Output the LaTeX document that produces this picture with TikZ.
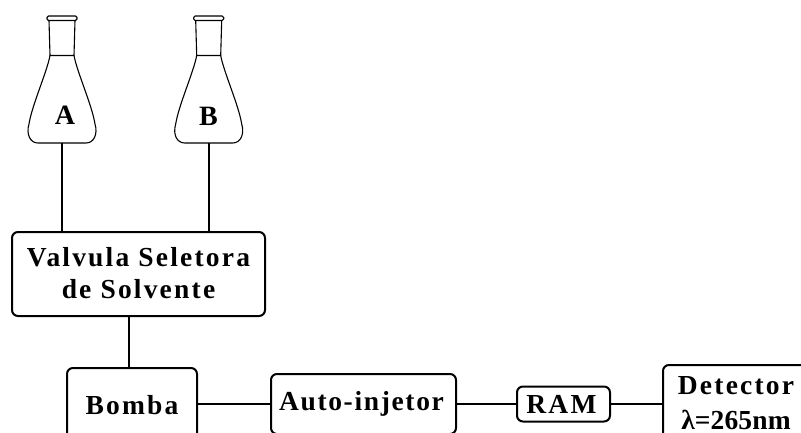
\documentclass[tikz,border=0pt]{standalone}
\usepackage{fontspec}
\setmainfont{Liberation Serif}
\newfontfamily\spaced[LetterSpace=8]{Liberation Serif}
\newfontfamily\midspaced[LetterSpace=6]{Liberation Serif}
\newfontfamily\tightfont[LetterSpace=0.5]{Liberation Serif}
\tikzset{
  x=1pt,y=-1pt,
  conn/.style={line width=2pt,black},
  boxn/.style={draw=black,line width=2pt,rounded corners=6pt,inner sep=0pt,align=center,font=\bfseries\spaced\fontsize{27.5}{32}\selectfont},
  flaskline/.style={line width=1.1pt,black,line join=round},
  flasklabel/.style={font=\bfseries\fontsize{28}{28}\selectfont,inner sep=0pt},
  flask/.pic={
    \draw[flaskline,rounded corners=1.5pt] (-15,16) rectangle (15,20.5);
    \draw[flaskline] (-13,20.5) -- (-12,55.5) -- (12,55.5) -- (13,20.5);
    \draw[flaskline] (-12,55.5) .. controls (-15,72) and (-30,105) .. (-33,124)
      .. controls (-36,134) and (-32,143) .. (-24,143) -- (24,143)
      .. controls (32,143) and (36,134) .. (33,124)
      .. controls (30,105) and (15,72) .. (12,55.5);
    \coordinate (-bottom) at (0,143);
  }
}
\begin{document}
\begin{tikzpicture}
\useasboundingbox (0,0) rectangle (801,432);
\clip (0,0) rectangle (801,432);
\pic (fa) at (62,0) {flask};
\pic (fb) at (208.7,0) {flask};
\node[flasklabel] (la) at (65,115) {A};
\node[flasklabel] (lb) at (208.5,116) {B};
\node[boxn,minimum width=253pt,minimum height=84pt] (valv) at (138.5,274) {\raisebox{2pt}{Valvula Seletora}\\\raisebox{2pt}{de Solvente}};
\node[boxn,minimum width=130pt,minimum height=74pt] (bomba) at (132,405) {Bomba};
\node[boxn,minimum width=185pt,minimum height=60pt] (auto) at (363.5,404) {\hspace*{-4pt}{\midspaced Auto-injetor}};
\node[boxn,minimum width=93pt,minimum height=35pt] (ram) at (563.5,404) {\hspace*{-4pt}RAM};
\node[boxn,minimum width=146pt,minimum height=76pt,font=\bfseries\spaced\fontsize{27.5}{35}\selectfont] (det) at (736,403) {Detector\\{\tightfont λ=265nm}};
\draw[conn] (fa-bottom) -- (fa-bottom |- valv.north);
\draw[conn] (fb-bottom) -- (fb-bottom |- valv.north);
\draw[conn] (valv.south -| 129,0) -- (bomba.north -| 129,0);
\draw[conn] (bomba.east |- auto.west) -- (auto.west);
\draw[conn] (auto.east) -- (ram.west);
\draw[conn] (ram.east) -- (det.west |- ram.east);
\end{tikzpicture}
\end{document}
